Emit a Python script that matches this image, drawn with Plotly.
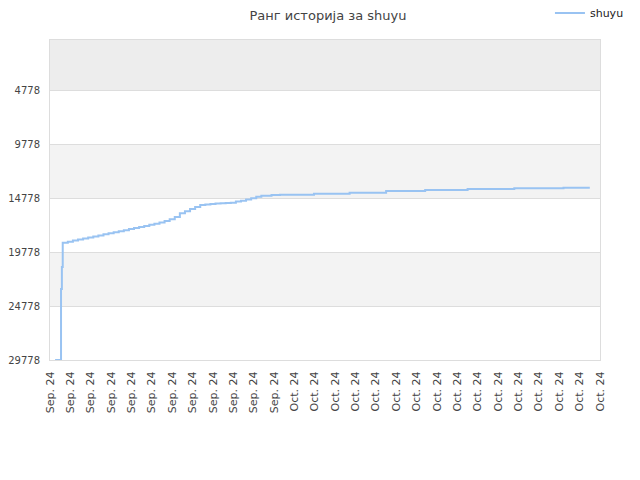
import plotly.graph_objects as go

# rank history (lower = better), sampled at the update times
dates = [
    "2024-09-19 06:00", "2024-09-19 13:00", "2024-09-19 14:00", "2024-09-19 15:00",
    "2024-09-19 21:00", "2024-09-20 03:00", "2024-09-20 09:00", "2024-09-20 15:00",
    "2024-09-20 21:00", "2024-09-21 03:00", "2024-09-21 09:00", "2024-09-21 15:00",
    "2024-09-21 21:00", "2024-09-22 03:00", "2024-09-22 09:00", "2024-09-22 15:00",
    "2024-09-22 21:00", "2024-09-23 03:00", "2024-09-23 09:00", "2024-09-23 15:00",
    "2024-09-23 21:00", "2024-09-24 03:00", "2024-09-24 09:00", "2024-09-24 15:00",
    "2024-09-24 21:00", "2024-09-25 03:00", "2024-09-25 09:00", "2024-09-25 15:00",
    "2024-09-25 21:00", "2024-09-26 03:00", "2024-09-26 09:00", "2024-09-26 15:00",
    "2024-09-26 21:00", "2024-09-27 03:00", "2024-09-27 09:00", "2024-09-27 15:00",
    "2024-09-27 21:00", "2024-09-28 03:00", "2024-09-28 09:00", "2024-09-28 15:00",
    "2024-09-28 21:00", "2024-09-29 03:00", "2024-09-29 09:00", "2024-09-29 21:00",
    "2024-09-30 07:00", "2024-10-01 23:00", "2024-10-03 17:00", "2024-10-05 12:00",
    "2024-10-07 10:00", "2024-10-09 12:00", "2024-10-11 19:00", "2024-10-14 05:00",
    "2024-10-15 12:00",
]
ranks = [
    29778, 23180, 21130, 18880,
    18780, 18680, 18590, 18490,
    18390, 18290, 18200, 18100,
    18000, 17900, 17810, 17710,
    17610, 17510, 17420, 17320,
    17220, 17120, 17000, 16860,
    16700, 16500, 16150, 15950,
    15750, 15550, 15373, 15330,
    15280, 15240, 15210, 15180,
    15160, 15060, 14974, 14860,
    14740, 14602, 14509, 14444,
    14416, 14323, 14230, 14072,
    13979, 13886, 13821, 13765,
    13765,
]
y_ticks = [4778, 9778, 14778, 19778, 24778, 29778]

fig = go.Figure()
fig.add_trace(go.Scatter(x=dates, y=ranks, mode="lines", name="shuyu",
                         line=dict(color="#99c3f2", width=2, shape="hv")))

# alternating background bands
bands = [(40, 4778, "#ededed"), (9778, 14778, "#f3f3f3"), (19778, 24778, "#f3f3f3")]
for y0, y1, col in bands:
    fig.add_shape(type="rect", xref="paper", yref="y", x0=0, x1=1, y0=y0, y1=y1,
                  fillcolor=col, line_width=0, layer="below")

# page body adds ~8px offset, so margins are shifted to compensate
fig.update_layout(
    title=dict(text="Ранг историја за shuyu", x=0.5, xanchor="center",
               y=0.984, yanchor="middle",
               font=dict(family="DejaVu Sans", size=13, color="#444")),
    width=640, height=480,
    margin=dict(l=42, r=48, t=32, b=128, autoexpand=False),
    plot_bgcolor="white", paper_bgcolor="white",
    font=dict(family="DejaVu Sans", size=11, color="#444"),
    showlegend=True,
    legend=dict(x=0.909, xanchor="left", y=1.13, yanchor="top", itemwidth=30,
                font=dict(size=11, color="#222"), bgcolor="rgba(0,0,0,0)"),
)
fig.update_xaxes(type="date", range=["2024-09-19", "2024-10-16"], tick0="2024-09-19",
                 dtick=86400000, tickformat="%b. %y", tickangle=-90,
                 showgrid=False, showline=True, linecolor="#ddd", mirror=True,
                 ticks="", ticklabelstandoff=6, tickfont=dict(size=11, color="#444"))
fig.update_yaxes(range=[29778, 40], tickvals=y_ticks, ticktext=[str(v) for v in y_ticks],
                 showgrid=True, gridcolor="#ddd", zeroline=False,
                 showline=True, linecolor="#ddd", mirror=True, ticks="",
                 ticklabelstandoff=7, tickfont=dict(size=10, color="#444"))

fig.write_html("out.html")
